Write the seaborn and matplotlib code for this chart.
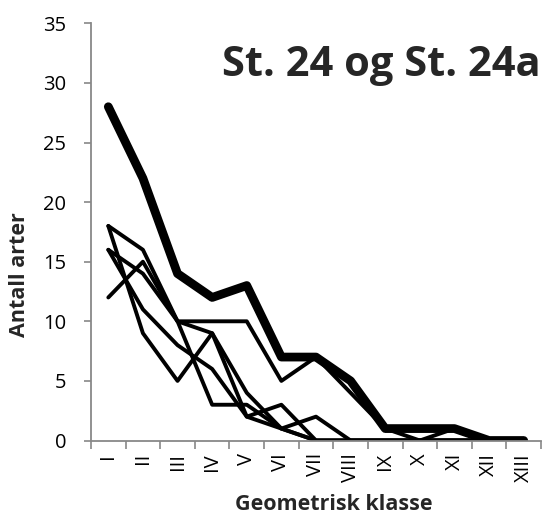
import matplotlib
matplotlib.use("Agg")
import matplotlib.pyplot as plt
import seaborn as sns
import numpy as np
import pandas as pd

classes = ['I', 'II', 'III', 'IV', 'V', 'VI', 'VII', 'VIII', 'IX', 'X', 'XI', 'XII', 'XIII']
st24_total = [28, 22, 14, 12, 13, 7, 7, 5, 1, 1, 1, 0, 0]
serie_1 = [18, 16, 10, 10, 10, 5, 7, 4, 1, 0, 1, 0, 0]
serie_2 = [18, 9, 5, 9, 4, 1, 0, 0, 0, 0, 0, 0, 0]
serie_3 = [16, 14, 10, 3, 3, 1, 0, 0, 0, 0, 0, 0, 0]
serie_4 = [16, 11, 8, 6, 2, 3, 0, 0, 0, 0, 0, 0, 0]
serie_5 = [12, 15, 10, 9, 2, 1, 2, 0, 0, 0, 0, 0, 0]
y_ticks = [0, 5, 10, 15, 20, 25, 30, 35]

sns.set_theme(style="white")
plt.rcParams['font.family'] = ['Open Sans', 'DejaVu Sans']

fig = plt.figure(figsize=(5.45, 5.2), dpi=100)
ax = fig.add_axes([91 / 545, 1 - 440.5 / 520, 450 / 545, (440.5 - 23.3) / 520])

pos = np.arange(len(classes))
thin = [serie_1, serie_2, serie_3, serie_4, serie_5]
for s in thin:
    df = pd.DataFrame({'klasse': pos, 'arter': s})
    sns.lineplot(data=df, x='klasse', y='arter', ax=ax, color='black', lw=2.8,
                 solid_joinstyle='round', solid_capstyle='round')
df = pd.DataFrame({'klasse': pos, 'arter': st24_total})
sns.lineplot(data=df, x='klasse', y='arter', ax=ax, color='black', lw=6.3,
             solid_joinstyle='round', solid_capstyle='round')

ax.set_xlim(-0.5, len(classes) - 0.5)
ax.set_ylim(0, 35)
ax.set_yticks(y_ticks)
ax.set_yticklabels([str(v) for v in y_ticks], fontsize=14.5, color='black')
ax.set_xticks(pos)
ax.set_xticklabels(classes, rotation=90, fontsize=14.5, color='black')
ax.set_xticks(np.arange(len(classes) + 1) - 0.5, minor=True)
ax.tick_params(axis='x', which='major', length=0, pad=9)
ax.tick_params(axis='x', which='minor', length=6, width=1.2, color='#888888', direction='out', bottom=True)
ax.tick_params(axis='y', which='major', length=5, width=1.2, color='#888888', direction='out', left=True, pad=13)

for side in ['top', 'right']:
    ax.spines[side].set_visible(False)
for side in ['left', 'bottom']:
    ax.spines[side].set_color('#888888')
    ax.spines[side].set_linewidth(1.3)

ax.set_xlabel('Geometrisk klasse', fontsize=15.5, fontweight='bold')
ax.xaxis.set_label_coords((334 - 91) / 450, (440.5 - 494) / 417)
ax.set_ylabel('Antall arter', fontsize=15.5, fontweight='bold')
ax.yaxis.set_label_coords((30 - 91) / 450, (440.5 - 275) / 417)
ax.text(1.0, (440.5 - 66) / 417, 'St. 24 og St. 24a', transform=ax.transAxes, ha='right', va='center',
        fontsize=30, fontweight='bold')

fig.savefig('out.png', dpi=100)
